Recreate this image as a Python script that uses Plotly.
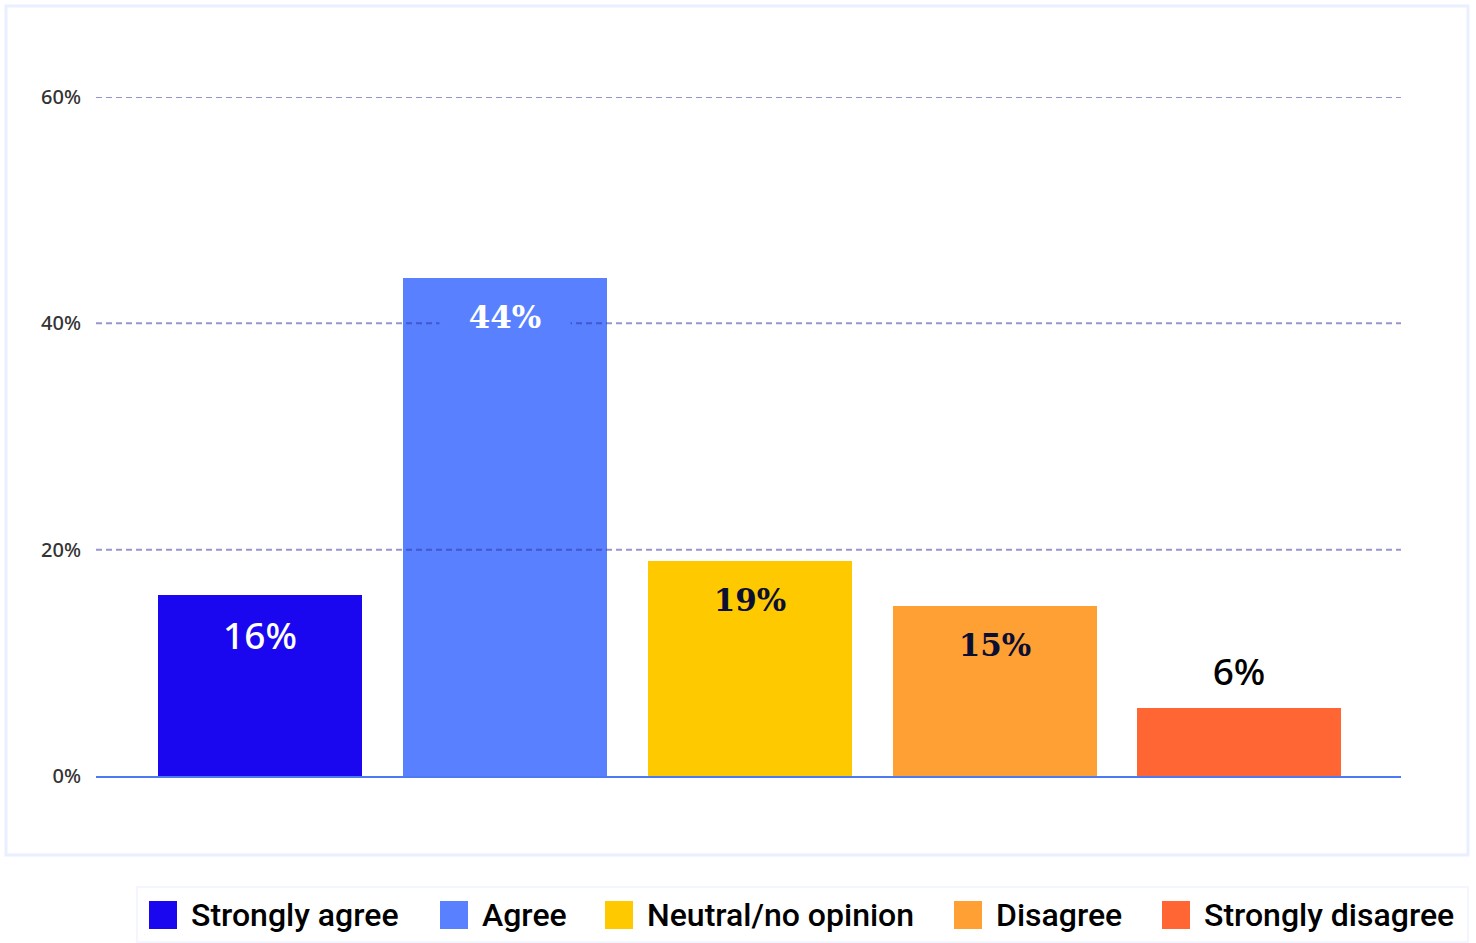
import plotly.graph_objects as go

# Survey responses
categories = ["Strongly agree", "Agree", "Neutral/no opinion", "Disagree", "Strongly disagree"]
shares = [16, 44, 19, 15, 6]
y_ticks = [0, 20, 40, 60]
y_tick_labels = ["0%", "20%", "40%", "60%"]

colors = ["#1a06ef", "#5981ff", "#ffc900", "#ffa034", "#ff6634"]
label_fonts = [
    dict(family="Noto Sans", size=37, color="white", weight=500),
    dict(family="DejaVu Serif", size=31, color="white", weight="bold"),
    dict(family="DejaVu Serif", size=31, color="#0b1033", weight="bold"),
    dict(family="DejaVu Serif", size=31, color="#0b1033", weight="bold"),
    dict(family="Noto Sans", size=37, color="black", weight=500),
]
label_inside = [True, True, True, True, False]

W, H = 1476, 943
L, R, T, B = 96, 75, 97, 167
PW, PH = W - L - R, H - T - B


def px_x(x):
    return (x - L) / PW


def px_y(y):
    return (H - B - y) / PH


fig = go.Figure()
for i, (cat, val, col) in enumerate(zip(categories, shares, colors)):
    fig.add_trace(go.Bar(
        x=[i], y=[val], name=cat, width=0.833,
        marker=dict(color=col, line=dict(width=0)),
        showlegend=False, hoverinfo="skip",
    ))

shapes = []
# dashed gridlines drawn over the bars
for t in y_ticks[1:]:
    shapes.append(dict(type="line", xref="paper", yref="y", x0=0, x1=1, y0=t, y1=t,
                       line=dict(color="rgba(45,45,160,0.5)", width=2, dash="6px,4px"),
                       layer="above"))
# outer frame around the chart
shapes.append(dict(type="rect", xref="paper", yref="paper",
                   x0=px_x(6), x1=px_x(1468), y0=px_y(855), y1=px_y(6),
                   line=dict(color="#e9efff", width=3), layer="below"))
# legend frame
shapes.append(dict(type="rect", xref="paper", yref="paper",
                   x0=px_x(137), x1=px_x(1468), y0=px_y(942), y1=px_y(887),
                   line=dict(color="#f4f6ff", width=2), layer="below"))

annotations = []
for i, (val, font, inside, col) in enumerate(zip(shares, label_fonts, label_inside, colors)):
    annotations.append(dict(
        x=i, y=val, xref="x", yref="y", text=f"{val}%", showarrow=False,
        font=font, yanchor="middle", yshift=-39 if inside else 38,
        bgcolor=col if inside else None, width=128, height=34,
    ))

# legend entries: square swatch + label
swatch_x = [149, 440, 605, 954, 1162]
for cat, col, sx in zip(categories, colors, swatch_x):
    shapes.append(dict(type="rect", xref="paper", yref="paper",
                       x0=px_x(sx), x1=px_x(sx + 28), y0=px_y(929), y1=px_y(901),
                       fillcolor=col, line=dict(width=0)))
    annotations.append(dict(
        x=px_x(sx + 40), y=px_y(915), xref="paper", yref="paper", text=cat,
        showarrow=False, xanchor="left", yanchor="middle",
        font=dict(family="Roboto", size=32, color="black", weight=500),
    ))

fig.update_layout(
    width=W, height=H,
    margin=dict(l=L, r=R, t=T, b=B, pad=0),
    paper_bgcolor="white", plot_bgcolor="white",
    barmode="overlay", bargap=0,
    shapes=shapes, annotations=annotations,
    xaxis=dict(range=[-0.67, 4.66], showticklabels=False, showgrid=False, zeroline=False,
               showline=True, linecolor="#4d79f5", linewidth=2, ticks=""),
    yaxis=dict(range=[0, 60], tickmode="array", tickvals=y_ticks, ticktext=y_tick_labels,
               showgrid=False, zeroline=False, showline=False, ticks="", ticklabelstandoff=14,
               tickfont=dict(family="Noto Sans", size=20, color="#333333", weight=500)),
    showlegend=False,
)

fig.write_html("out.html")
